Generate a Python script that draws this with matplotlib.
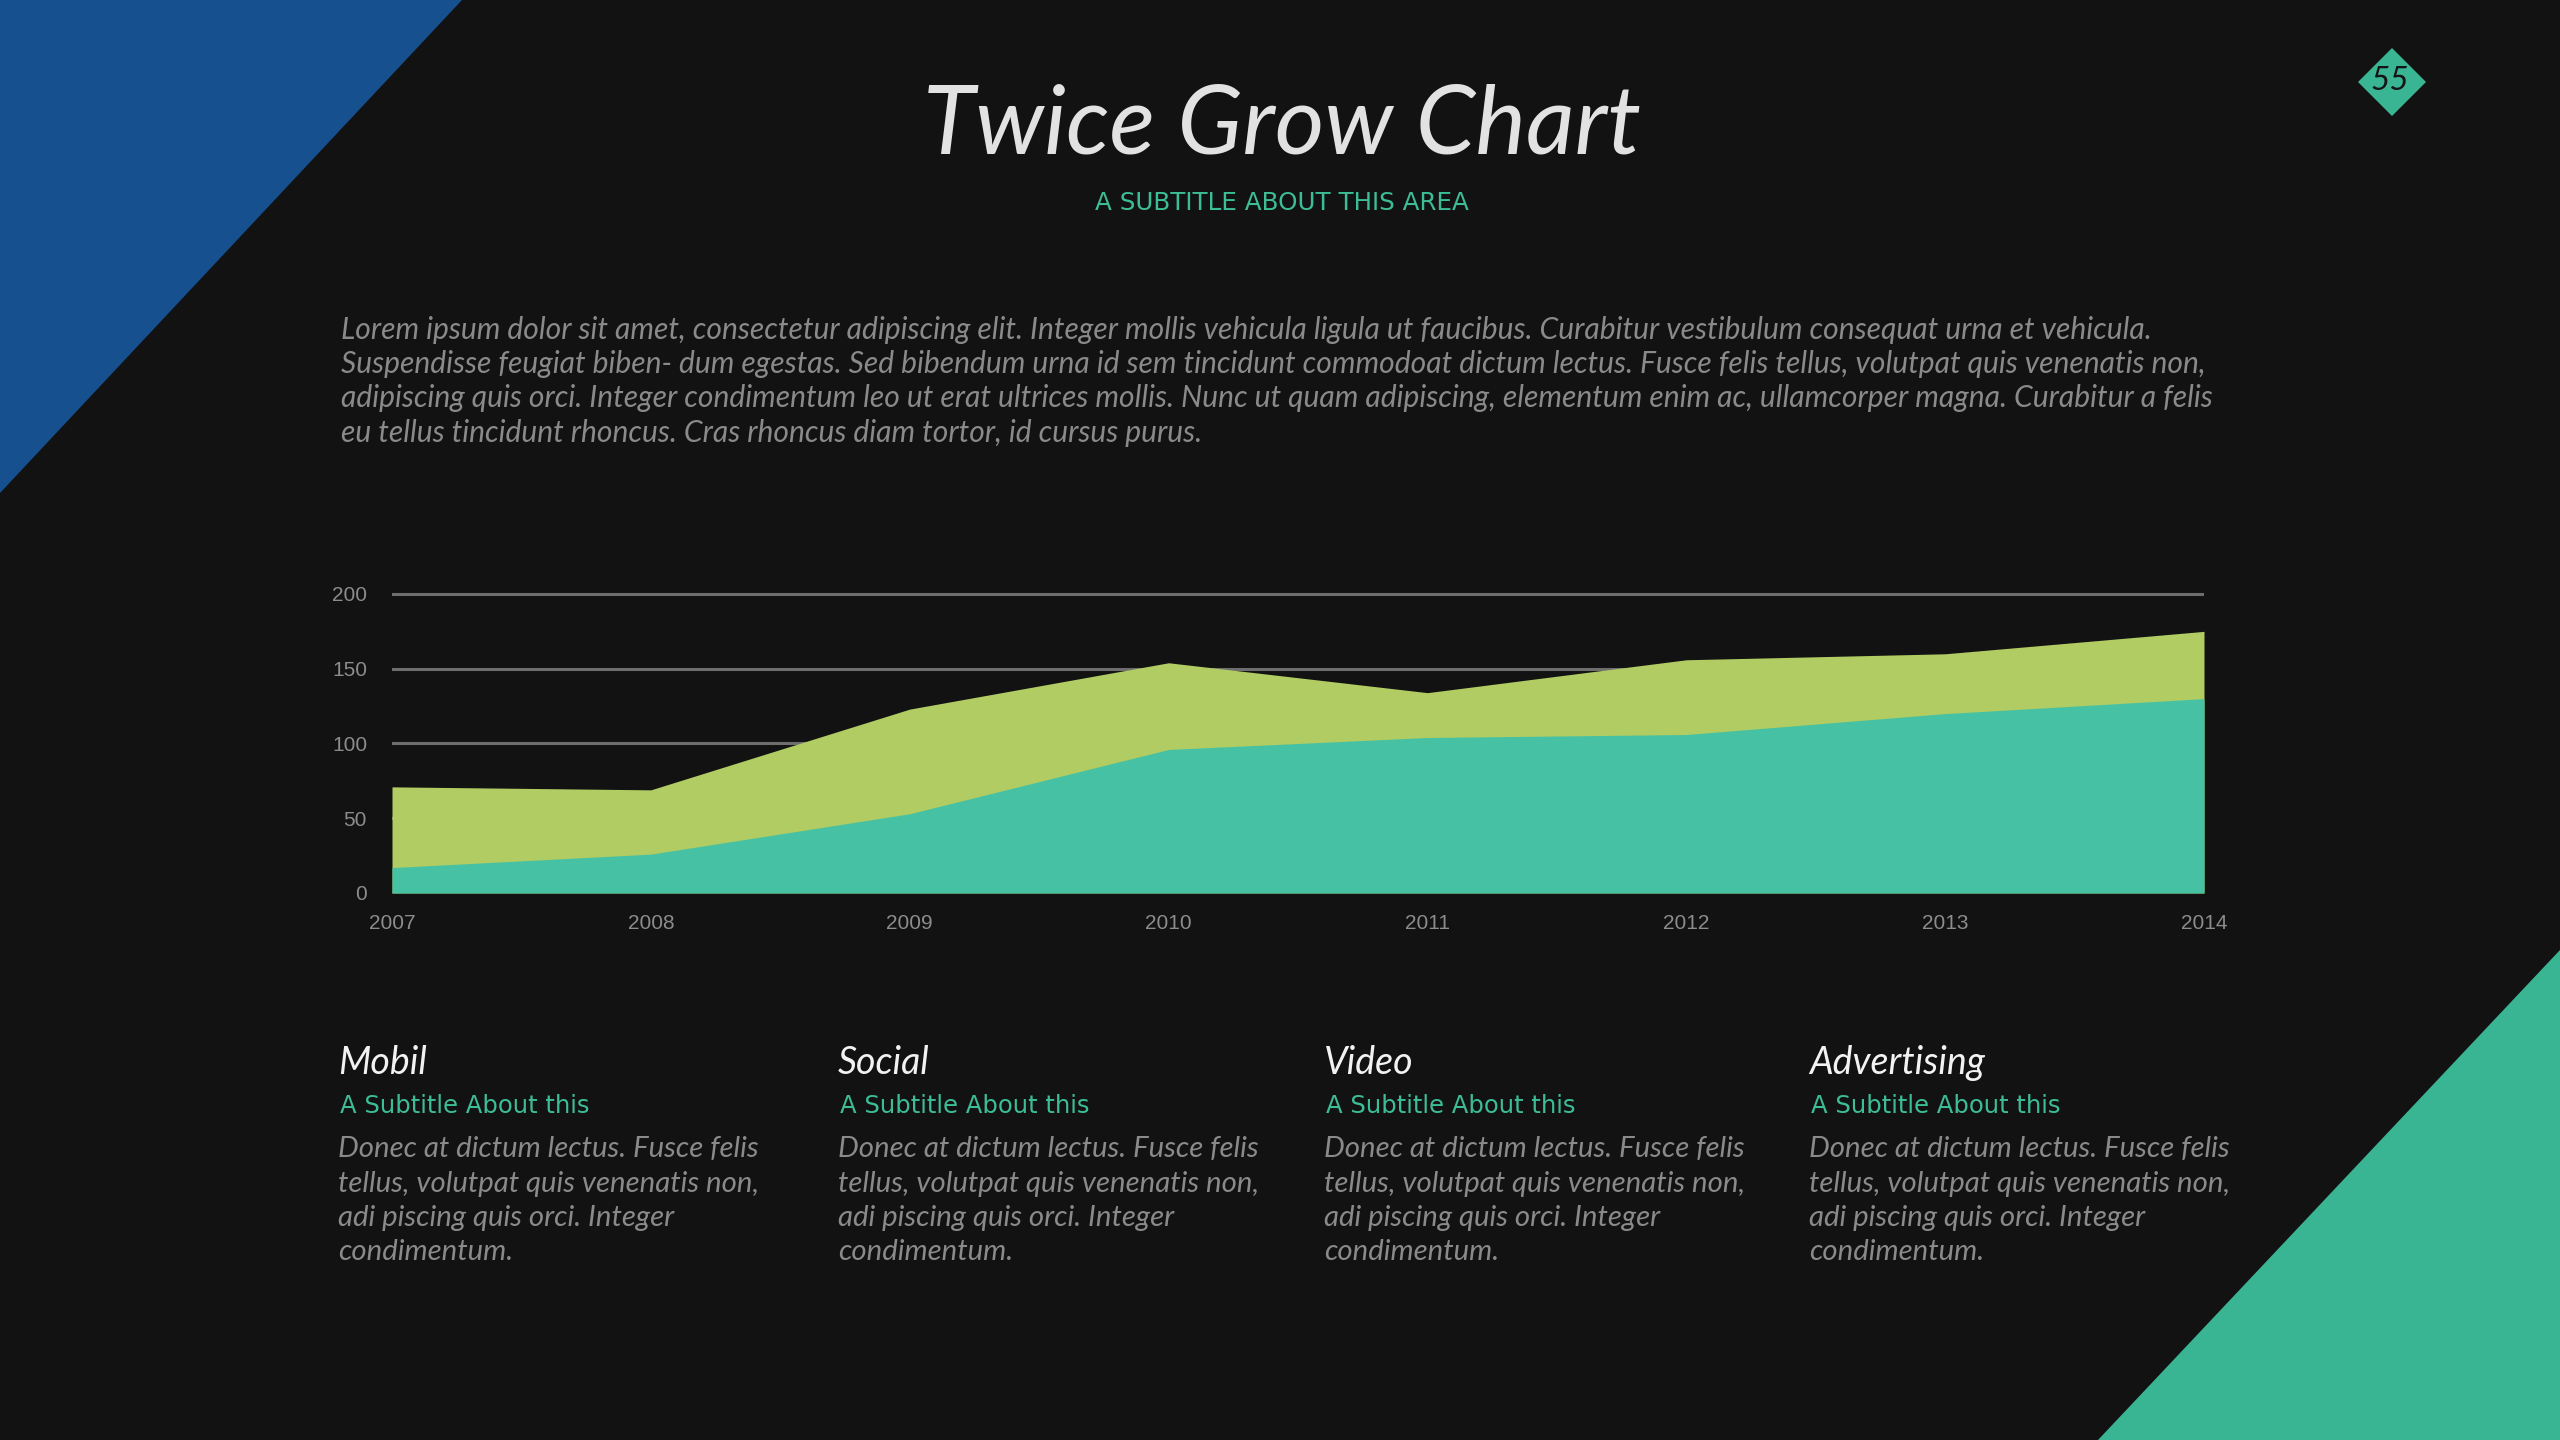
import matplotlib
matplotlib.use("Agg")
import matplotlib.pyplot as plt
from matplotlib.patches import Polygon

# ---------------- data ----------------
years = [2007, 2008, 2009, 2010, 2011, 2012, 2013, 2014]
series_total = [71, 69, 123, 154, 134, 156, 160, 175]   # green (upper) area
series_base = [17, 26, 53, 96, 104, 106, 120, 130]      # teal (lower) area
y_ticks = [0, 50, 100, 150, 200]

title = "Twice Grow Chart"
subtitle = "A SUBTITLE ABOUT THIS AREA"
paragraph = [
    "Lorem ipsum dolor sit amet, consectetur adipiscing elit. Integer mollis vehicula ligula ut faucibus. Curabitur vestibulum consequat urna et vehicula.",
    "Suspendisse feugiat biben- dum egestas. Sed bibendum urna id sem tincidunt commodoat dictum lectus. Fusce felis tellus, volutpat quis venenatis non,",
    "adipiscing quis orci. Integer condimentum leo ut erat ultrices mollis. Nunc ut quam adipiscing, elementum enim ac, ullamcorper magna. Curabitur a felis",
    "eu tellus tincidunt rhoncus. Cras rhoncus diam tortor, id cursus purus.",
]
col_titles = ["Mobil", "Social", "Video", "Advertising"]
col_sub = "A Subtitle About this"
col_body = [
    "Donec at dictum lectus. Fusce felis",
    "tellus, volutpat quis venenatis non,",
    "adi piscing quis orci. Integer",
    "condimentum.",
]
page_number = "55"

# ---------------- style ----------------
BG = "#121212"
GREEN = "#b0cc62"
TEAL = "#47c1a3"
BLUE = "#16508e"
TEAL_DECO = "#3ab593"
GRAY_TXT = "#8a8a8a"
HAND = ["Lato", "DejaVu Sans"]

W, H = 2560, 1440
fig = plt.figure(figsize=(25.6, 14.4), dpi=100, facecolor=BG)

# overlay axes in pixel coordinates
ov = fig.add_axes([0, 0, 1, 1])
ov.set_xlim(0, W)
ov.set_ylim(H, 0)
ov.axis("off")
ov.set_facecolor(BG)

ov.add_patch(Polygon([(0, 0), (462, 0), (0, 493)], closed=True, color=BLUE, lw=0))
ov.add_patch(Polygon([(2560, 950), (2560, 1440), (2098, 1440)], closed=True, color=TEAL_DECO, lw=0))
cx, cy, hs = 2392, 82, 34
ov.add_patch(Polygon([(cx, cy - hs), (cx + hs, cy), (cx, cy + hs), (cx - hs, cy)], closed=True, color=TEAL_DECO, lw=0))
ov.text(cx - 2, cy - 1, page_number, ha="center", va="center", fontsize=24, style="italic",
        color="#151515", family=HAND)

renderer = fig.canvas.get_renderer()


def width_of(t):
    return t.get_window_extent(renderer=renderer).width


def fit(t, width):
    t.set_fontsize(t.get_fontsize() * width / width_of(t))
    return t.get_fontsize()


t = ov.text(1282, 126, title, ha="center", va="center", fontsize=60, style="italic",
            color="#e2e2e2", family=HAND)
fit(t, 718)
t = ov.text(1282, 203, subtitle, ha="center", va="center", fontsize=17,
            color="#3dbd96", family=["DejaVu Sans"])
fit(t, 376)

para_y = [330, 364, 398, 433]
para_txt = []
for line, y in zip(paragraph, para_y):
    para_txt.append(ov.text(341, y, line, ha="left", va="center", fontsize=18,
                            style="italic", color=GRAY_TXT, family=HAND))
widest = max(width_of(t) for t in para_txt)
scale = 1870 / widest
for t in para_txt:
    t.set_fontsize(18 * scale)

col_x = [338, 838, 1324, 1809]
body_y = [1149, 1184, 1218, 1252]
probe = ov.text(0, -100, col_body[1], fontsize=18, style="italic", family=HAND)
bfs = fit(probe, 421)
probe.remove()
probe = ov.text(0, -100, col_sub, fontsize=18, family=["DejaVu Sans"])
sfs = fit(probe, 250)
probe.remove()
for x, name in zip(col_x, col_titles):
    ov.text(x, 1063, name, ha="left", va="center", fontsize=27, style="italic",
            color="#f2f2f2", family=HAND)
    ov.text(x + 2, 1106, col_sub, ha="left", va="center", fontsize=sfs,
            color="#3dbd96", family=["DejaVu Sans"])
    for line, y in zip(col_body, body_y):
        ov.text(x, y, line, ha="left", va="center", fontsize=bfs, style="italic",
                color=GRAY_TXT, family=HAND)

# ---------------- chart ----------------
ax = fig.add_axes([392 / W, (H - 893) / H, (2204 - 392) / W, 305 / H])
ax.set_facecolor("none")
ax.fill_between(years, series_total, 0, color=GREEN, lw=0, zorder=2)
ax.fill_between(years, series_base, 0, color=TEAL, lw=0, zorder=3)
ax.set_xlim(years[0], years[-1])
ax.set_ylim(0, 204)
ax.set_xticks(years)
ax.set_yticks(y_ticks)
ax.set_axisbelow(True)
ax.grid(axis="y", color="#6e6e6e", lw=2.2, zorder=1)
ax.grid(axis="x", visible=False)
for s in ax.spines.values():
    s.set_visible(False)
ax.tick_params(axis="both", length=0, colors="#8c8c8c", labelsize=15)
ax.tick_params(axis="x", pad=15)
ax.tick_params(axis="y", pad=18)
for lab in ax.get_xticklabels() + ax.get_yticklabels():
    lab.set_family(["Liberation Sans Narrow", "Liberation Sans", "DejaVu Sans"])

fig.savefig("out.png", dpi=100, facecolor=BG)
